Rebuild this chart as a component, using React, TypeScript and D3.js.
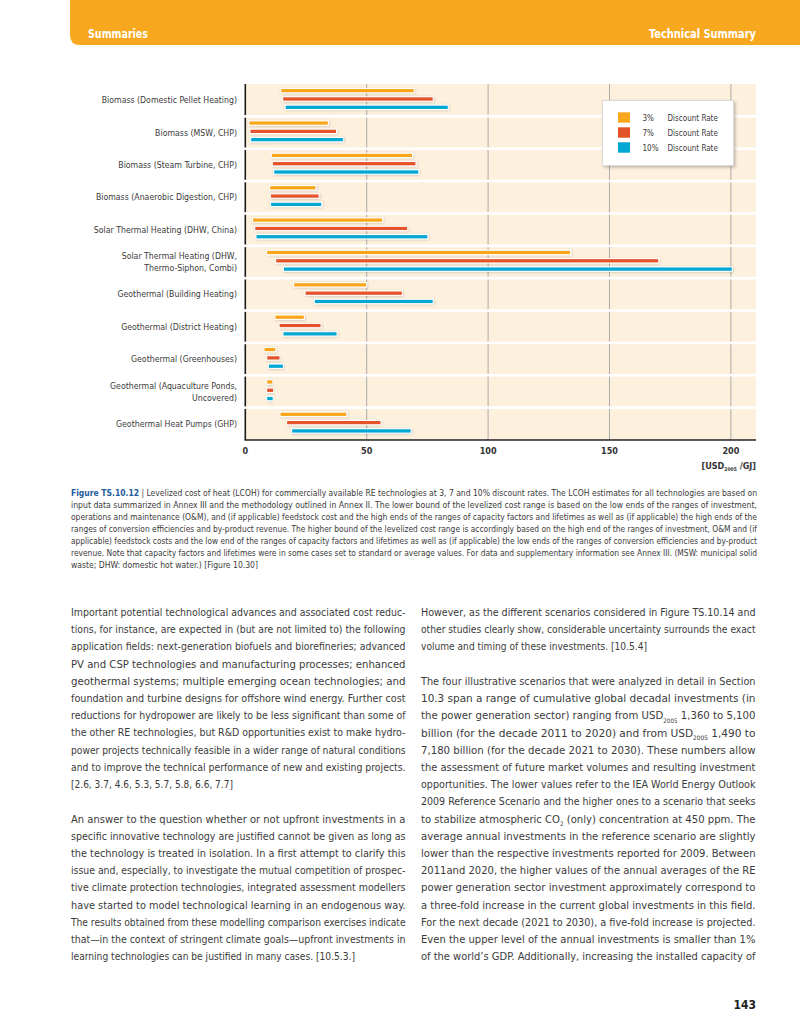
import React from 'react';
import * as d3 from 'd3';

const categories = [
  'Biomass (Domestic Pellet Heating)',
  'Biomass (MSW, CHP)',
  'Biomass (Steam Turbine, CHP)',
  'Biomass (Anaerobic Digestion, CHP)',
  'Solar Thermal Heating (DHW, China)',
  'Solar Thermal Heating (DHW,\nThermo-Siphon, Combi)',
  'Geothermal (Building Heating)',
  'Geothermal (District Heating)',
  'Geothermal (Greenhouses)',
  'Geothermal (Aquaculture Ponds,\nUncovered)',
  'Geothermal Heat Pumps (GHP)',
];
const rates = ['3%', '7%', '10%'];
const rateColors = ['#F9A61C', '#E4522A', '#00A7D3'];
const low3 = [14.6, 1.5, 10.7, 10.0, 3.0, 8.8, 19.9, 12.2, 7.7, 8.8, 14.3];
const high3 = [69.6, 34.2, 68.9, 29.1, 56.6, 134.0, 50.0, 24.3, 12.6, 11.4, 41.8];
const low7 = [15.4, 1.9, 11.1, 10.3, 3.9, 12.5, 24.6, 13.9, 8.8, 8.8, 17.0];
const high7 = [77.4, 37.6, 70.3, 30.4, 66.9, 170.3, 64.7, 31.2, 14.3, 11.7, 55.9];
const low10 = [16.4, 2.2, 11.7, 10.4, 4.4, 15.7, 28.4, 15.5, 9.5, 8.8, 19.1];
const high10 = [83.6, 40.4, 71.5, 31.5, 75.2, 200.6, 77.4, 37.8, 15.7, 11.5, 68.3];
const xTicks = [0, 50, 100, 150, 200];

const captionLines = [
  'Levelized cost of heat (LCOH) for commercially available RE technologies at 3, 7 and 10% discount rates. The LCOH estimates for all technologies are based on',
  'input data summarized in Annex III and the methodology outlined in Annex II. The lower bound of the levelized cost range is based on the low ends of the ranges of investment,',
  'operations and maintenance (O&M), and (if applicable) feedstock cost and the high ends of the ranges of capacity factors and lifetimes as well as (if applicable) the high ends of the',
  'ranges of conversion efficiencies and by-product revenue. The higher bound of the levelized cost range is accordingly based on the high end of the ranges of investment, O&M and (if',
  'applicable) feedstock costs and the low end of the ranges of capacity factors and lifetimes as well as (if applicable) the low ends of the ranges of conversion efficiencies and by-product',
  'revenue. Note that capacity factors and lifetimes were in some cases set to standard or average values. For data and supplementary information see Annex III. (MSW: municipal solid',
  'waste; DHW: domestic hot water.) [Figure 10.30]',
];

const leftPara1 = [
  'Important potential technological advances and associated cost reduc-',
  'tions, for instance, are expected in (but are not limited to) the following',
  'application fields: next-generation biofuels and biorefineries; advanced',
  'PV and CSP technologies and manufacturing processes; enhanced',
  'geothermal systems; multiple emerging ocean technologies; and',
  'foundation and turbine designs for offshore wind energy. Further cost',
  'reductions for hydropower are likely to be less significant than some of',
  'the other RE technologies, but R&D opportunities exist to make hydro-',
  'power projects technically feasible in a wider range of natural conditions',
  'and to improve the technical performance of new and existing projects.',
  '[2.6, 3.7, 4.6, 5.3, 5.7, 5.8, 6.6, 7.7]',
];
const leftPara2 = [
  'An answer to the question whether or not upfront investments in a',
  'specific innovative technology are justified cannot be given as long as',
  'the technology is treated in isolation. In a first attempt to clarify this',
  'issue and, especially, to investigate the mutual competition of prospec-',
  'tive climate protection technologies, integrated assessment modellers',
  'have started to model technological learning in an endogenous way.',
  'The results obtained from these modelling comparison exercises indicate',
  'that\u2014in the context of stringent climate goals\u2014upfront investments in',
  'learning technologies can be justified in many cases. [10.5.3.]',
];
const rightPara1 = [
  'However, as the different scenarios considered in Figure TS.10.14 and',
  'other studies clearly show, considerable uncertainty surrounds the exact',
  'volume and timing of these investments. [10.5.4]',
];
const rightPara2 = [
  'The four illustrative scenarios that were analyzed in detail in Section',
  '10.3 span a range of cumulative global decadal investments (in',
  'the power generation sector) ranging from USD_{2005} 1,360 to 5,100',
  'billion (for the decade 2011 to 2020) and from USD_{2005} 1,490 to',
  '7,180 billion (for the decade 2021 to 2030). These numbers allow',
  'the assessment of future market volumes and resulting investment',
  'opportunities. The lower values refer to the IEA World Energy Outlook',
  '2009 Reference Scenario and the higher ones to a scenario that seeks',
  'to stabilize atmospheric CO_{2} (only) concentration at 450 ppm. The',
  'average annual investments in the reference scenario are slightly',
  'lower than the respective investments reported for 2009. Between',
  '2011and 2020, the higher values of the annual averages of the RE',
  'power generation sector investment approximately correspond to',
  'a three-fold increase in the current global investments in this field.',
  'For the next decade (2021 to 2030), a five-fold increase is projected.',
  'Even the upper level of the annual investments is smaller than 1%',
  'of the world\u2019s GDP. Additionally, increasing the installed capacity of',
];

const COND = "'Liberation Sans Narrow','DejaVu Sans Condensed','Open Sans',sans-serif";
const TEXT = '#3b3b3b';

function renderSegments(s: string, fs: number) {
  const parts = s.split(/(_\{[^}]*\})/);
  const out: any[] = [];
  let shifted = false;
  parts.forEach((p, i) => {
    if (p.startsWith('_{')) {
      out.push(
        <tspan key={i} fontSize={fs * 0.55} dy={fs * 0.3}>
          {p.slice(2, -1)}
        </tspan>
      );
      shifted = true;
    } else if (p.length) {
      out.push(
        <tspan key={i} dy={shifted ? -fs * 0.3 : 0}>
          {p}
        </tspan>
      );
      shifted = false;
    }
  });
  return out;
}

function Paragraph({ lines, x, y0, width, lastWidth, fs, lh }: any) {
  return (
    <g>
      {lines.map((l: string, i: number) => (
        <text
          key={i}
          x={x}
          y={y0 + i * lh}
          fontSize={fs}
          fill={TEXT}
          fontFamily={COND}
          textLength={i === lines.length - 1 ? lastWidth : width}
          lengthAdjust="spacingAndGlyphs"
        >
          {renderSegments(l, fs)}
        </text>
      ))}
    </g>
  );
}

export default function App() {
  const W = 800;
  const H = 1035;
  const plotLeft = 245.3;
  const plotRight = 756;
  const plotTop = 84;
  const plotBottom = 440;
  const x = d3.scaleLinear().domain([0, 200]).range([plotLeft, 730.9]);
  const y = d3.scaleBand<string>().domain(categories).range([plotTop, plotBottom]);
  const rowH = y.bandwidth();
  const sub = d3.scaleBand<string>().domain(rates).range([2.5, rowH - 4.9]);
  const lows = [low3, low7, low10];
  const highs = [high3, high7, high10];

  return (
    <svg
      width={W}
      height={H}
      viewBox={`0 0 ${W} ${H}`}
      style={{ position: 'absolute', left: 0, top: 0, background: '#fff' }}
    >
      <defs>
        <filter id="sh" x="-10%" y="-100%" width="120%" height="300%">
          <feDropShadow dx="0.6" dy="0.6" stdDeviation="0.8" floodColor="#000" floodOpacity="0.18" />
        </filter>
        <filter id="lsh" x="-10%" y="-10%" width="125%" height="130%">
          <feDropShadow dx="1.5" dy="1.5" stdDeviation="1.5" floodColor="#000" floodOpacity="0.25" />
        </filter>
      </defs>

      {/* header band */}
      <path d="M70,0 H800 V45 H80 Q70,45 70,35 Z" fill="#F8A81F" />
      <text x={88} y={38} fill="#fff" fontSize={12} fontWeight="bold" fontFamily={COND} textLength={60} lengthAdjust="spacingAndGlyphs">
        Summaries
      </text>
      <text x={756} y={38} fill="#fff" fontSize={12} fontWeight="bold" fontFamily={COND} textAnchor="end" textLength={107} lengthAdjust="spacingAndGlyphs">
        Technical Summary
      </text>

      {/* plot background */}
      <rect x={plotLeft} y={plotTop} width={plotRight - plotLeft} height={plotBottom - plotTop} fill="#FDF0DD" />

      {/* gridlines */}
      {xTicks.slice(1).map((t) => (
        <line key={t} x1={x(t)} x2={x(t)} y1={plotTop} y2={plotBottom} stroke="#ababab" strokeWidth={1} />
      ))}

      {/* row separators */}
      {categories.slice(1).map((c) => (
        <rect key={c} x={plotLeft} y={(y(c) as number) - 1.3} width={plotRight - plotLeft} height={2.6} fill="#fff" />
      ))}

      {/* left axis segments */}
      {categories.map((c, i) => (
        <line
          key={c}
          x1={plotLeft}
          x2={plotLeft}
          y1={(y(c) as number) + (i === 0 ? 0 : 1.3)}
          y2={(y(c) as number) + rowH - (i === categories.length - 1 ? 0 : 1.3)}
          stroke="#1a1a1a"
          strokeWidth={1.6}
        />
      ))}

      {/* bottom axis */}
      <line x1={plotLeft - 0.8} x2={plotRight} y1={plotBottom} y2={plotBottom} stroke="#222" strokeWidth={1.3} />

      {/* bars */}
      {categories.map((c, i) =>
        rates.map((r, k) => {
          const x0 = x(lows[k][i]);
          const x1 = x(highs[k][i]);
          const yy = (y(c) as number) + (sub(r) as number) + sub.bandwidth() / 2 - 2.2;
          return (
            <rect
              key={c + r}
              x={x0}
              y={yy}
              width={x1 - x0}
              height={4.4}
              fill={rateColors[k]}
              stroke="#fff"
              strokeWidth={1.1}
              filter="url(#sh)"
            />
          );
        })
      )}

      {/* category labels */}
      {categories.map((c) => {
        const lines = c.split('\n');
        const cy = (y(c) as number) + rowH / 2;
        return (
          <text key={c} x={237} textAnchor="end" fontSize={8.7} fill={TEXT} fontFamily={COND}>
            {lines.map((l, j) => (
              <tspan key={j} x={237} y={cy + 3.1 + (j - (lines.length - 1) / 2) * 12}>
                {l}
              </tspan>
            ))}
          </text>
        );
      })}

      {/* x tick labels */}
      {xTicks.map((t) => (
        <text key={t} x={x(t)} y={453.5} textAnchor="middle" fontSize={9} fontWeight="bold" fill="#333" fontFamily={COND}>
          {t}
        </text>
      ))}
      <text x={756} y={469} textAnchor="end" fontSize={9} fontWeight="bold" fill="#333" fontFamily={COND}>
        <tspan>[USD</tspan>
        <tspan fontSize={5} dy={2}>2005</tspan>
        <tspan dy={-2}> /GJ]</tspan>
      </text>

      {/* legend */}
      <g filter="url(#lsh)">
        <rect x={602.5} y={100.5} width={131} height={65} fill="#fff" stroke="#d6d6d6" strokeWidth={0.8} />
      </g>
      {rates.map((r, k) => (
        <g key={r}>
          <rect x={618} y={112.3 + k * 15} width={12} height={10.4} fill={rateColors[k]} />
          <text x={642.5} y={120.5 + k * 15} fontSize={8} fill={TEXT} fontFamily={COND}>
            {r}
          </text>
          <text x={667.5} y={120.5 + k * 15} fontSize={8} fill={TEXT} fontFamily={COND}>
            Discount Rate
          </text>
        </g>
      ))}

      {/* caption */}
      {captionLines.map((l, i) => (
        <text
          key={i}
          x={71}
          y={496 + i * 12.05}
          fontSize={8}
          fill={TEXT}
          fontFamily={COND}
          textLength={i === captionLines.length - 1 ? 187 : 686}
          lengthAdjust="spacingAndGlyphs"
        >
          {i === 0 ? (
            <>
              <tspan fontWeight="bold" fill="#1F5C9E">Figure TS.10.12</tspan>
              <tspan fill={TEXT}> | {l}</tspan>
            </>
          ) : (
            l
          )}
        </text>
      ))}

      {/* body text */}
      <Paragraph lines={leftPara1} x={71} y0={616} width={334.5} lastWidth={162} fs={11} lh={17.2} />
      <Paragraph lines={leftPara2} x={71} y0={822.5} width={334.5} lastWidth={284} fs={11} lh={17.2} />
      <Paragraph lines={rightPara1} x={421} y0={616} width={334.5} lastWidth={226} fs={11} lh={17.2} />
      <Paragraph lines={rightPara2} x={421} y0={685} width={334.5} lastWidth={334.5} fs={11} lh={17.2} />

      <text x={756} y={1009} textAnchor="end" fontSize={12} fontWeight="bold" fill="#222" fontFamily={COND}>
        143
      </text>
    </svg>
  );
}
